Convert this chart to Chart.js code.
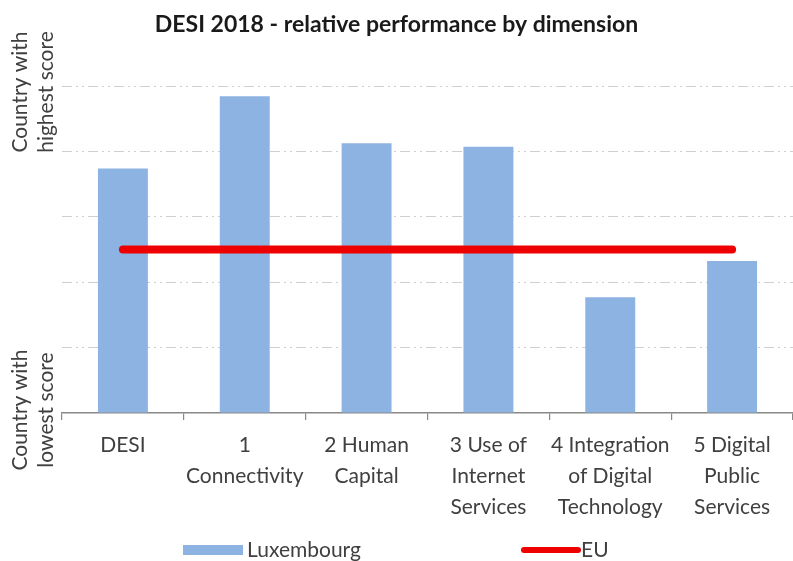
<!DOCTYPE html>
<html>
<head>
<meta charset="utf-8">
<script src="https://cdn.jsdelivr.net/npm/chart.js@4/dist/chart.umd.min.js"></script>
<style>
  html, body { margin: 0; padding: 0; background: #fff; overflow: hidden; }
  #wrap { width: 793px; height: 561px; position: relative; }
</style>
</head>
<body>
<div id="wrap"><canvas id="c"></canvas></div>
<script>
const categories = [
  "DESI",
  ["1", "Connectivity"],
  ["2 Human", "Capital"],
  ["3 Use of", "Internet", "Services"],
  ["4 Integration", "of Digital", "Technology"],
  ["5 Digital", "Public", "Services"]
];
const luxembourgValues = [0.748, 0.969, 0.825, 0.814, 0.354, 0.465];
const euValues = [0.5, 0.5, 0.5, 0.5, 0.5, 0.5];
const axisTopLabel = ["Country with", "highest score"];
const axisBottomLabel = ["Country with", "lowest score"];
const titleText = "DESI 2018 - relative performance by dimension";

const FONT = "Lato, 'Noto Sans', sans-serif";
const TEXT = "#404040";
const BLUE = "#8DB3E2";
const RED = "#EE0000";

const sideLabels = {
  id: "sideLabels",
  afterDraw(chart) {
    const ctx = chart.ctx;
    const drawRot = (lines, cy) => {
      ctx.save();
      ctx.fillStyle = TEXT;
      ctx.font = "21px " + FONT;
      ctx.textAlign = "center";
      ctx.textBaseline = "middle";
      const xs = [20, 46];
      lines.forEach((t, i) => {
        ctx.save();
        ctx.translate(xs[i], cy);
        ctx.rotate(-Math.PI / 2);
        ctx.fillText(t, 0, 0);
        ctx.restore();
      });
      ctx.restore();
    };
    drawRot(axisTopLabel, 92);
    drawRot(axisBottomLabel, 410);

    // legend
    const ds = chart.data.datasets;
    const bar = ds.find(d => d.type === "bar");
    const line = ds.find(d => d.type === "line");
    ctx.save();
    ctx.font = "21px " + FONT;
    ctx.textBaseline = "middle";
    ctx.textAlign = "left";
    const ly = 550;
    ctx.fillStyle = bar.backgroundColor;
    ctx.fillRect(183, ly - 5, 60, 10);
    ctx.fillStyle = TEXT;
    ctx.fillText(bar.label, 247, ly);
    ctx.strokeStyle = line.borderColor;
    ctx.lineWidth = 6;
    ctx.lineCap = "round";
    ctx.beginPath();
    ctx.moveTo(524, ly);
    ctx.lineTo(578, ly);
    ctx.stroke();
    ctx.fillStyle = TEXT;
    ctx.fillText(line.label, 581, ly);
    ctx.restore();
  }
};

new Chart(document.getElementById("c"), {
  data: {
    labels: categories,
    datasets: [
      {
        type: "line",
        label: "EU",
        data: euValues,
        borderColor: RED,
        backgroundColor: RED,
        borderWidth: 8,
        borderCapStyle: "round",
        pointRadius: 0,
        fill: false,
        order: 0
      },
      {
        type: "bar",
        label: "Luxembourg",
        data: luxembourgValues,
        backgroundColor: BLUE,
        barPercentage: 0.41,
        categoryPercentage: 1.0,
        order: 1
      }
    ]
  },
  options: {
    responsive: true,
    maintainAspectRatio: false,
    animation: false,
    layout: { padding: { top: 0, right: 0, bottom: 0, left: 0 } },
    plugins: {
      legend: { display: false },
      tooltip: { enabled: false },
      title: {
        display: true,
        text: titleText,
        color: "#1a1a1a",
        font: { family: FONT, size: 23, weight: "bold", lineHeight: 1.2 },
        padding: { top: 11, bottom: 47.4 }
      }
    },
    scales: {
      x: {
        offset: true,
        grid: {
          offset: true,
          drawOnChartArea: false,
          drawTicks: true,
          tickLength: 7,
          color: "#888888",
          lineWidth: 1.2
        },
        border: { display: true, color: "#888888", width: 1.5 },
        ticks: {
          color: TEXT,
          font: { family: FONT, size: 21, lineHeight: 1.48 },
          padding: 10,
          maxRotation: 0,
          autoSkip: false
        },
        afterFit(scale) { scale.height = 148; }
      },
      y: {
        min: 0,
        max: 1,
        ticks: { display: false, stepSize: 0.2 },
        border: { display: false, dash: [10, 4, 2, 4, 2, 4] },
        grid: {
          drawTicks: false,
          color: (c) => (c.tick && c.tick.value === 0 ? "rgba(0,0,0,0)" : "#cfcfcf"),
          lineWidth: 1
        },
        afterFit(scale) { scale.width = 62; }
      }
    }
  },
  plugins: [sideLabels]
});
</script>
</body>
</html>
